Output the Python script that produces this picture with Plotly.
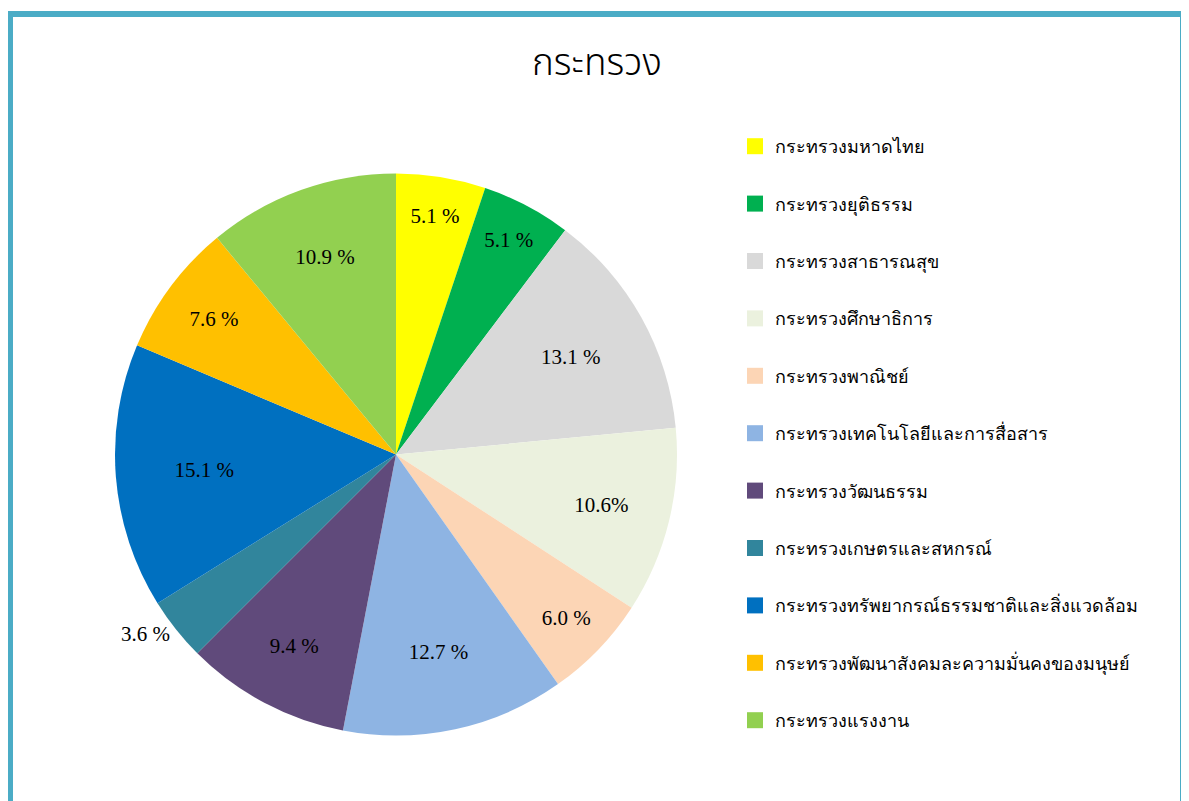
import plotly.graph_objects as go

categories = [
    "กระทรวงมหาดไทย",
    "กระทรวงยุติธรรม",
    "กระทรวงสาธารณสุข",
    "กระทรวงศึกษาธิการ",
    "กระทรวงพาณิชย์",
    "กระทรวงเทคโนโลยีและการสื่อสาร",
    "กระทรวงวัฒนธรรม",
    "กระทรวงเกษตรและสหกรณ์",
    "กระทรวงทรัพยากรณ์ธรรมชาติและสิ่งแวดล้อม",
    "กระทรวงพัฒนาสังคมละความมั่นคงของมนุษย์",
    "กระทรวงแรงงาน",
]
values = [5.1, 5.1, 13.1, 10.6, 6.0, 12.7, 9.4, 3.6, 15.1, 7.6, 10.9]
label_text = ["5.1 %", "5.1 %", "13.1 %", "10.6%", "6.0 %", "12.7 %", "9.4 %",
              "3.6 %", "15.1 %", "7.6 %", "10.9 %"]
colors = ["#FFFF00", "#00B050", "#D9D9D9", "#EBF1DE", "#FCD5B5", "#8EB4E3",
          "#604A7B", "#31859C", "#0070C0", "#FFC000", "#92D050"]

W, H = 1189, 801
OFF = 8  # page body margin
fig = go.Figure()

positions = ["outside" if v < 4 else "inside" for v in values]

fig.add_trace(go.Pie(
    labels=categories,
    values=values,
    text=label_text,
    textinfo="text",
    textposition=positions,
    insidetextorientation="horizontal",
    textfont=dict(family="Liberation Serif", size=21, color="#000000"),
    marker=dict(colors=colors, line=dict(width=0)),
    sort=False,
    direction="clockwise",
    rotation=0,
    showlegend=False,
    domain=dict(x=[(115 - OFF) / W, (677 - OFF) / W],
                y=[1 - (737 - OFF) / H, 1 - (172 - OFF) / H]),
    hoverinfo="label+percent",
))

# Legend entries
for i, (name, col) in enumerate(zip(categories, colors)):
    fig.add_trace(go.Scatter(
        x=[None], y=[None], mode="markers", name=name,
        marker=dict(symbol="square", size=16, color=col),
        legendgroup=f"g{i}", showlegend=True,
    ))

fig.update_layout(
    width=W, height=H,
    margin=dict(l=0, r=0, t=0, b=0),
    paper_bgcolor="#FFFFFF",
    plot_bgcolor="#FFFFFF",
    title=dict(text="กระทรวง", x=(597 - OFF) / W, xanchor="center",
               y=1 - (62 - OFF) / H, yanchor="middle",
               font=dict(family="Noto Sans Thai, Liberation Serif", size=37,
                         color="#000000", weight=300)),
    xaxis=dict(visible=False),
    yaxis=dict(visible=False),
    legend=dict(x=(735 - OFF) / W, y=1 - (128 - OFF) / H, xanchor="left", yanchor="top",
                tracegroupgap=31, traceorder="grouped",
                font=dict(family="Liberation Serif", size=18, color="#000000"),
                bgcolor="rgba(0,0,0,0)"),
    shapes=[dict(type="rect", xref="paper", yref="paper",
                 x0=(10 - OFF) / W, x1=(1183 - OFF) / W, y0=-0.05, y1=1 - (14 - OFF) / H,
                 line=dict(color="#4BACC6", width=6), fillcolor="rgba(0,0,0,0)")],
)

fig.write_html("out.html")
